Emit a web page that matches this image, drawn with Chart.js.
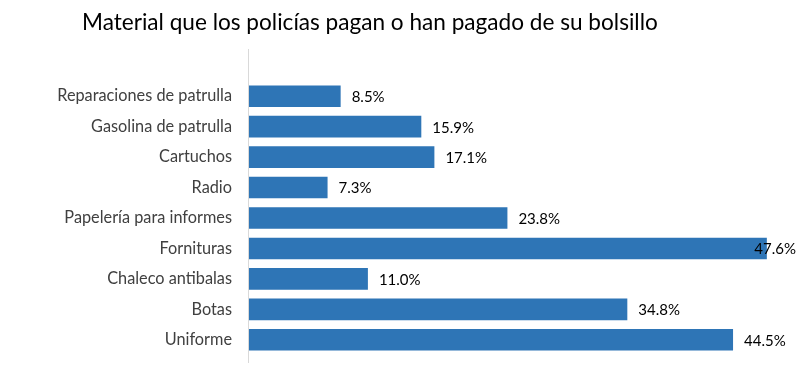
<!DOCTYPE html>
<html>
<head>
<meta charset="utf-8">
<style>
  html, body { margin: 0; padding: 0; background: #ffffff; }
  #wrap { width: 802px; height: 382px; position: relative; }
</style>
<script src="https://cdn.jsdelivr.net/npm/chart.js@4.4.1/dist/chart.umd.min.js"></script>
</head>
<body>
<div id="wrap"><canvas id="c" width="802" height="382"></canvas></div>
<script>
const chartTitle = "Material que los policías pagan o han pagado de su bolsillo";
const categories = [
  "Reparaciones de patrulla",
  "Gasolina de patrulla",
  "Cartuchos",
  "Radio",
  "Papelería para informes",
  "Fornituras",
  "Chaleco antibalas",
  "Botas",
  "Uniforme"
];
const values = [8.5, 15.9, 17.1, 7.3, 23.8, 47.6, 11.0, 34.8, 44.5];

const FONT = "Lato, 'Open Sans', sans-serif";

const extrasPlugin = {
  id: 'extras',
  afterDraw(chart) {
    const ctx = chart.ctx;
    const area = chart.chartArea;
    ctx.save();
    // title
    ctx.fillStyle = '#000000';
    ctx.font = "22.6px " + FONT;
    ctx.textAlign = 'left';
    ctx.textBaseline = 'middle';
    ctx.fillText(chartTitle, 82, 23);
    // vertical axis line
    ctx.strokeStyle = '#d9d9d9';
    ctx.lineWidth = 1;
    ctx.beginPath();
    ctx.moveTo(Math.round(area.left) + 0.5, area.top - 32);
    ctx.lineTo(Math.round(area.left) + 0.5, area.bottom + 8);
    ctx.stroke();
    // data labels
    ctx.font = "15px " + FONT;
    ctx.fillStyle = '#000000';
    ctx.textBaseline = 'middle';
    const meta = chart.getDatasetMeta(0);
    meta.data.forEach((bar, i) => {
      const txt = values[i].toFixed(1) + '%';
      const w = ctx.measureText(txt).width;
      let x = bar.x + 11;
      if (x + w > chart.width - 6) x = chart.width - 6 - w;
      ctx.fillText(txt, x, bar.y + 1);
    });
    ctx.restore();
  }
};

new Chart(document.getElementById('c'), {
  type: 'bar',
  data: {
    labels: categories,
    datasets: [{
      data: values,
      backgroundColor: '#2e75b6',
      borderWidth: 0,
      barPercentage: 0.71,
      categoryPercentage: 1.0
    }]
  },
  options: {
    indexAxis: 'y',
    responsive: false,
    animation: false,
    layout: { padding: { left: 0, right: 9, top: 81, bottom: 27 } },
    plugins: {
      legend: { display: false },
      title: { display: false },
      tooltip: { enabled: false }
    },
    scales: {
      x: {
        min: 0,
        max: 50,
        display: false,
        grid: { display: false }
      },
      y: {
        afterFit(scale) { scale.width = 248; },
        grid: { display: false, drawTicks: false },
        border: { display: false },
        ticks: {
          padding: 16,
          color: '#404040',
          font: { family: FONT, size: 16.3 }
        }
      }
    }
  },
  plugins: [extrasPlugin]
});
</script>
</body>
</html>
